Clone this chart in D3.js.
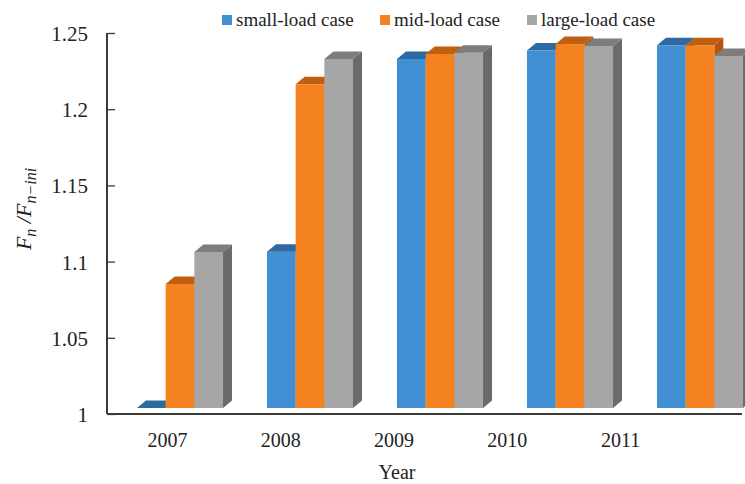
<!DOCTYPE html>
<html>
<head>
<meta charset="utf-8">
<script src="https://cdn.jsdelivr.net/npm/d3@7"></script>
<style>
  html, body { margin: 0; padding: 0; background: #fff; }
  svg text { font-family: "Liberation Serif", "Times New Roman", Times, "DejaVu Serif", serif !important; }
</style>
</head>
<body>
<svg id="chart" width="745" height="484"></svg>
<script>
// Normalised force ratio per year for the three load cases
const years = ["2007", "2008", "2009", "2010", "2011"];
const seriesNames = ["small-load case", "mid-load case", "large-load case"];
const smallLoad = [1.000, 1.1026, 1.2290, 1.2345, 1.2380];
const midLoad   = [1.0814, 1.2124, 1.2323, 1.2388, 1.2380];
const largeLoad = [1.1024, 1.2290, 1.2331, 1.2375, 1.2310];
const yTicks = [1, 1.05, 1.1, 1.15, 1.2, 1.25];

const seriesValues = [smallLoad, midLoad, largeLoad];
const palette = [
  { front: "#4290d3", top: "#2e6aa2", side: "#2b5f92" },
  { front: "#f58220", top: "#c05f12", side: "#b05512" },
  { front: "#a6a6a6", top: "#7d7d7d", side: "#6a6a6a" }
];

const svg = d3.select("#chart");

const y = d3.scaleLinear().domain([1, 1.25]).range([414, 33]);
const xGroup = d3.scaleBand().domain(years).range([115, 765])
  .paddingInner(0.338).paddingOuter(0.169);
const xSeries = d3.scaleBand().domain(seriesNames).range([0, xGroup.bandwidth()]);
const xLabel = d3.scalePoint().domain(years).range([167, 620]);

// oblique depth of the 3-D columns and the set-back of the bar row from the axis plane
const depthX = 9, depthY = -7.5, setBack = 6;

// value axis
const yAxis = d3.axisRight(y).tickValues(yTicks).tickSize(8)
  .tickFormat(d => d3.format("")(+d.toFixed(2)));
const gy = svg.append("g").attr("transform", "translate(107,0)").call(yAxis);
gy.select(".domain").attr("stroke", "#3a3a3a").attr("stroke-width", 2)
  .attr("d", `M0,${y(1.25)}V${y(1)}`);
gy.selectAll(".tick line").attr("stroke", "#3a3a3a").attr("stroke-width", 1.3);
gy.selectAll(".tick text").attr("x", -19).attr("dy", "0.36em")
  .attr("text-anchor", "end").attr("fill", "#222")
  .style("font-size", "21px");

// columns
const bars = [];
years.forEach((yr, i) => {
  seriesNames.forEach((s, j) => {
    bars.push({ year: yr, series: s, idx: j, value: seriesValues[j][i] });
  });
});

const barG = svg.append("g");
bars.forEach(b => {
  const x0 = xGroup(b.year) + xSeries(b.series);
  const w = xSeries.bandwidth();
  const yb = y(1) - setBack;
  const yt = y(b.value) - setBack;
  const c = palette[b.idx];
  const g = barG.append("g");
  g.append("path").attr("fill", c.side)
    .attr("d", `M${x0 + w},${yt}L${x0 + w + depthX},${yt + depthY}L${x0 + w + depthX},${yb + depthY}L${x0 + w},${yb}Z`);
  g.append("rect").attr("fill", c.front)
    .attr("x", x0).attr("y", yt).attr("width", w).attr("height", Math.max(0, yb - yt));
  g.append("path").attr("fill", c.top)
    .attr("d", `M${x0},${yt}L${x0 + depthX},${yt + depthY}L${x0 + w + depthX},${yt + depthY}L${x0 + w},${yt}Z`);
});

// category axis line
svg.append("line").attr("x1", 107).attr("x2", 742)
  .attr("y1", y(1)).attr("y2", y(1))
  .attr("stroke", "#3a3a3a").attr("stroke-width", 2);

const gx = svg.append("g").attr("transform", `translate(0,${y(1)})`)
  .call(d3.axisBottom(xLabel).tickSize(0));
gx.select(".domain").remove();
gx.selectAll(".tick text").attr("y", 33).attr("dy", 0).attr("fill", "#222")
  .style("font-size", "20px");

// axis titles
svg.append("text").attr("x", 397).attr("y", 479).attr("text-anchor", "middle")
  .attr("fill", "#222").style("font-size", "20px").text("Year");

const yTitle = svg.append("text")
  .attr("transform", "translate(31,209) rotate(-90)")
  .attr("text-anchor", "middle").attr("fill", "#222")
  .style("font-size", "22px").style("font-style", "italic");
yTitle.append("tspan").text("F");
yTitle.append("tspan").attr("dy", 5).style("font-size", "16px").text("n");
yTitle.append("tspan").attr("dy", -5).text(" /");
yTitle.append("tspan").text("F");
yTitle.append("tspan").attr("dy", 5).style("font-size", "16px").text("n\u2212ini");

// legend
const legendX = [222, 380, 527];
const legend = svg.append("g");
seriesNames.forEach((s, j) => {
  legend.append("rect").attr("x", legendX[j]).attr("y", 15)
    .attr("width", 10).attr("height", 10).attr("fill", palette[j].front);
  legend.append("text").attr("x", legendX[j] + 14).attr("y", 26)
    .attr("fill", "#222").style("font-size", "19px").text(s);
});
</script>
</body>
</html>
